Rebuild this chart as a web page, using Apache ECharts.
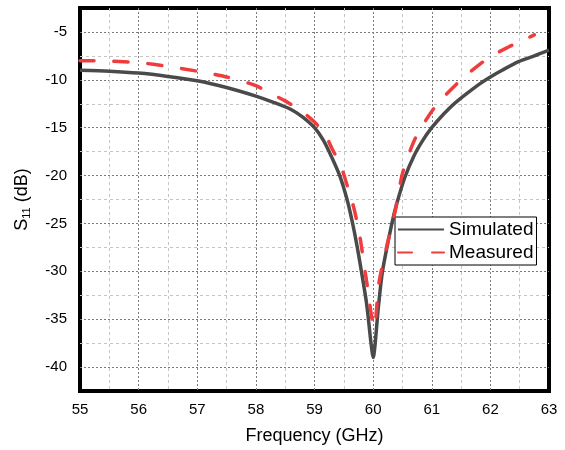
<!DOCTYPE html>
<html>
<head>
<meta charset="utf-8">
<script src="https://cdn.jsdelivr.net/npm/echarts@6/dist/echarts.min.js"></script>
<style>
  html, body { margin: 0; padding: 0; background: #fff; }
  #chart { width: 565px; height: 450px; }
</style>
</head>
<body>
<div id="chart"></div>
<script>
// S11 vs frequency
const simFreq = [55.0, 55.5, 56.0, 56.5, 57.0, 57.5, 58.0, 58.3, 58.6, 58.8, 59.0, 59.15, 59.28, 59.43, 59.56, 59.65, 59.73, 59.8, 59.88, 59.92, 59.96, 60.0,
  60.09, 60.16, 60.32, 60.4, 60.54, 60.7, 60.85, 61.0, 61.2, 61.4, 61.8, 62.0, 62.2, 62.48, 62.75, 63.0]
const simS11 = [-9.0, -9.1, -9.3, -9.65, -10.1, -10.8, -11.7, -12.35, -13.1, -13.9, -15.0, -16.3, -17.9, -20.0, -22.6, -25.0, -27.5, -30.0, -33.0, -35.0, -37.3, -39.0,
  -33.7, -30.0, -25.0, -23.0, -20.2, -17.9, -16.3, -15.0, -13.6, -12.4, -10.5, -9.7, -9.0, -8.1, -7.5, -6.9]

const measFreq = [55.0, 55.5, 56.0, 56.5, 57.0, 57.5, 58.0, 58.2, 58.5, 58.78, 59.0, 59.18, 59.3, 59.45, 59.58, 59.68, 59.78, 59.86, 59.92, 59.97, 60.02,
  60.1, 60.24, 60.38, 60.5, 60.72, 61.06, 61.5, 61.97, 62.3, 62.65, 62.75]
const measS11 = [-8.0, -8.05, -8.2, -8.6, -9.1, -9.7, -10.6, -11.3, -12.2, -13.3, -14.4, -15.7, -17.2, -19.0, -21.5, -23.6, -26.6, -29.9, -32.3, -34.6, -35.9,
  -31.2, -27.2, -23.6, -19.8, -16.1, -12.8, -10.0, -7.7, -6.6, -5.6, -5.3]

const seriesNames = ['Simulated', 'Measured']

const font = 'Liberation Sans, Arial, sans-serif'
const majorGrid = { color: '#7a7a7a', width: 1, type: [2, 2] }
const minorGrid = { color: '#c4c4c4', width: 1, type: [3, 3] }

const chart = echarts.init(document.getElementById('chart'))

chart.setOption({
  animation: false,
  backgroundColor: '#fff',
  textStyle: { fontFamily: font },
  grid: {
    left: 80, right: 16, top: 8, bottom: 58,
    show: true, borderColor: '#000', borderWidth: 4, backgroundColor: 'transparent',
  },
  legend: {
    data: seriesNames,
    orient: 'vertical',
    left: 395, top: 217,
    itemWidth: 46, itemHeight: 14, itemGap: 4,
    padding: [3, 3, 3, 2],
    backgroundColor: '#fff',
    borderColor: '#000', borderWidth: 1,
    itemStyle: { opacity: 0 },
    textStyle: { fontFamily: font, fontSize: 19, color: '#000' },
  },
  xAxis: {
    type: 'value',
    min: 55, max: 63, interval: 1,
    name: 'Frequency (GHz)',
    nameLocation: 'middle',
    nameGap: 36,
    nameTextStyle: { fontFamily: font, fontSize: 18, color: '#000' },
    axisLine: { show: false },
    axisTick: { show: false },
    axisLabel: { fontFamily: font, fontSize: 15, color: '#000', margin: 11 },
    splitLine: { show: true, showMinLine: false, showMaxLine: false, lineStyle: majorGrid },
    minorTick: { show: true, splitNumber: 2, length: 0, lineStyle: { color: 'rgba(0,0,0,0)' } },
    minorSplitLine: { show: true, lineStyle: minorGrid },
  },
  yAxis: [
    {
      type: 'value',
      min: -42.5, max: -2.5, interval: 2.5,
      name: '{a|S}{b|11}{a| (dB)}',
      nameLocation: 'middle',
      nameGap: 48,
      nameTextStyle: {
        rich: {
          a: { fontFamily: font, fontSize: 18, color: '#000' },
          b: { fontFamily: font, fontSize: 11, color: '#000', verticalAlign: 'bottom', padding: [9, 0, 0, 0] },
        },
      },
      axisLine: { show: false },
      axisTick: { show: false },
      axisLabel: {
        fontFamily: font, fontSize: 15, color: '#000', margin: 13,
        formatter: v => (v % 5 === 0 ? String(v) : ''),
      },
      // drawn lines start at -40, every other one is a major line
      splitLine: { show: true, showMinLine: false, showMaxLine: false, lineStyle: { ...majorGrid, color: ['#7a7a7a', 'rgba(0,0,0,0)'] } },
    },
    {
      type: 'value',
      min: -42.5, max: -2.5, interval: 5,
      axisLine: { show: false },
      axisTick: { show: false },
      axisLabel: { show: false },
      splitLine: { show: true, showMinLine: false, showMaxLine: false, lineStyle: minorGrid },
    },
  ],
  series: [
    {
      name: seriesNames[0],
      type: 'line',
      data: simFreq.map((f, i) => [f, simS11[i]]),
      symbol: 'none',
      smooth: 0.25,
      lineStyle: { color: '#4a4a4a', width: 3.5 },
      itemStyle: { color: '#4a4a4a' },
      z: 3,
    },
    {
      name: seriesNames[1],
      type: 'line',
      data: measFreq.map((f, i) => [f, measS11[i]]),
      symbol: 'none',
      smooth: 0.25,
      lineStyle: { color: '#f03c3c', width: 3.5, type: [14, 20], cap: 'round' },
      itemStyle: { color: '#f03c3c' },
      z: 4,
    },
  ],
})
</script>
</body>
</html>
